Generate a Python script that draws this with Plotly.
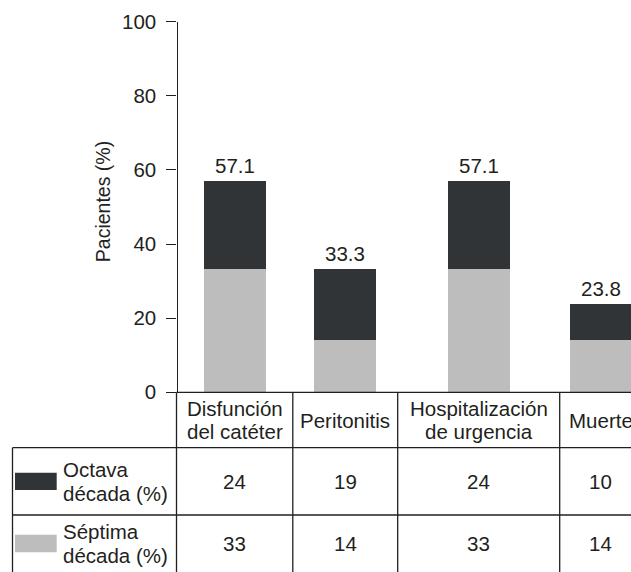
import plotly.graph_objects as go

# ---- data ----
categories = [["Disfunción", "del catéter"], ["Peritonitis"],
              ["Hospitalización", "de urgencia"], ["Muerte"]]
septima = [33.3, 14.3, 33.3, 14.3]   # Séptima década (%)
octava = [23.8, 19.0, 23.8, 9.5]     # Octava década (%)
series_labels = {"octava": ["Octava", "década (%)"],
                 "septima": ["Séptima", "década (%)"]}
y_ticks = [0, 20, 40, 60, 80, 100]
y_title = "Pacientes (%)"

# ---- layout / style ----
W, H = 631, 572
FONT = "Liberation Sans, Arial, Helvetica, sans-serif"
FS = 20.5
INK = "#231f20"
DARK = "#313437"
LIGHT = "#bcbdbc"
AXIS_X = 176.5                 # y-axis line / first table column edge (px)
COL_W = [116.3, 104.9, 162.0, 82.0]
BAR_W = 62
Y0_PX, Y100_PX = 392.3, 21.7   # pixel rows of 0 % and 100 %
ROW_PX = [392.3, 447.7, 515.0, H]
TABLE_LEFT = 12.5
LW = 1.3


def py(px):
    """pixel row -> paper fraction"""
    return 1 - px / H


edges = [AXIS_X]
for w in COL_W:
    edges.append(edges[-1] + w)
centers = [(a + b) / 2 for a, b in zip(edges[:-1], edges[1:])]
totals = [round(s + o, 1) for s, o in zip(septima, octava)]

fig = go.Figure()
fig.add_trace(go.Bar(x=centers, y=septima, width=BAR_W, marker_color=LIGHT,
                     marker_line_width=0, name="Séptima década (%)",
                     showlegend=False))
fig.add_trace(go.Bar(x=centers, y=octava, width=BAR_W, marker_color=DARK,
                     marker_line_width=0, name="Octava década (%)",
                     showlegend=False))

ann = []
# totals above bars
for c, t in zip(centers, totals):
    ann.append(dict(x=c, y=t, xref="x", yref="y", text=f"{t:.1f}",
                    showarrow=False, xanchor="center", yanchor="bottom",
                    yshift=2, font=dict(size=FS, color=INK, family=FONT)))

# y-axis title
ann.append(dict(x=102.5 / W, y=py(201.7), xref="paper", yref="paper",
                text=y_title, textangle=-90, showarrow=False,
                xanchor="center", yanchor="middle",
                font=dict(size=19.5, color=INK, family=FONT)))

# table header: category names
LINE_H = 23.5
head_mid = (ROW_PX[0] + ROW_PX[1]) / 2
for c, lines in zip(centers, categories):
    n = len(lines)
    for i, ln in enumerate(lines):
        yc = head_mid + (i - (n - 1) / 2) * LINE_H
        ann.append(dict(x=c / W, y=py(yc), xref="paper", yref="paper",
                        text=ln, showarrow=False, xanchor="center",
                        yanchor="middle",
                        font=dict(size=FS, color=INK, family=FONT)))

# table body rows: swatch, series name, rounded values
rows = [("octava", octava, DARK), ("septima", septima, LIGHT)]
shapes = []
for r, (key, vals, col) in enumerate(rows):
    top, bot = ROW_PX[r + 1], ROW_PX[r + 2]
    mid = (top + bot) / 2
    for c, v in zip(centers, vals):
        ann.append(dict(x=c / W, y=py(mid), xref="paper", yref="paper",
                        text=f"{v:.0f}", showarrow=False, xanchor="center",
                        yanchor="middle",
                        font=dict(size=FS, color=INK, family=FONT)))
    lines = series_labels[key]
    for i, ln in enumerate(lines):
        yc = mid + (i - 0.5) * LINE_H
        ann.append(dict(x=60.5 / W, y=py(yc), xref="paper", yref="paper",
                        text=ln, showarrow=False, xanchor="left",
                        yanchor="middle",
                        font=dict(size=FS, color=INK, family=FONT)))
    shapes.append(dict(type="rect", xref="paper", yref="paper",
                       x0=15 / W, x1=56.7 / W, y0=py(mid - 8.7), y1=py(mid + 8.7),
                       fillcolor=col, line_width=0))

# table grid
line = dict(color=INK, width=LW)
shapes.append(dict(type="line", xref="paper", yref="paper",
                   x0=AXIS_X / W, x1=1, y0=py(ROW_PX[0]), y1=py(ROW_PX[0]), line=line))
for yp in ROW_PX[1:3]:
    shapes.append(dict(type="line", xref="paper", yref="paper",
                       x0=TABLE_LEFT / W, x1=1, y0=py(yp), y1=py(yp), line=line))
shapes.append(dict(type="line", xref="paper", yref="paper",
                   x0=TABLE_LEFT / W, x1=TABLE_LEFT / W,
                   y0=py(ROW_PX[1]), y1=0, line=line))
for xe in edges[:-1]:
    shapes.append(dict(type="line", xref="paper", yref="paper",
                       x0=xe / W, x1=xe / W, y0=py(ROW_PX[0]), y1=0, line=line))

fig.update_layout(
    width=W, height=H, barmode="stack",
    margin=dict(l=0, r=0, t=0, b=0, autoexpand=False),
    paper_bgcolor="white", plot_bgcolor="white",
    font=dict(family=FONT, size=FS, color=INK),
    xaxis=dict(range=[0, W], domain=[0, 1], visible=False, fixedrange=True,
               automargin=False),
    yaxis=dict(range=[0, 100], domain=[py(Y0_PX), py(Y100_PX)],
               anchor="free", position=AXIS_X / W, automargin=False,
               tickvals=y_ticks, ticks="outside", ticklen=10,
               tickwidth=LW, tickcolor=INK, showline=True, linecolor=INK,
               linewidth=LW, showgrid=False, zeroline=False,
               ticklabelstandoff=6,
               tickfont=dict(size=FS, color=INK, family=FONT)),
    annotations=ann, shapes=shapes, bargap=0,
)

fig.write_html("out.html")
